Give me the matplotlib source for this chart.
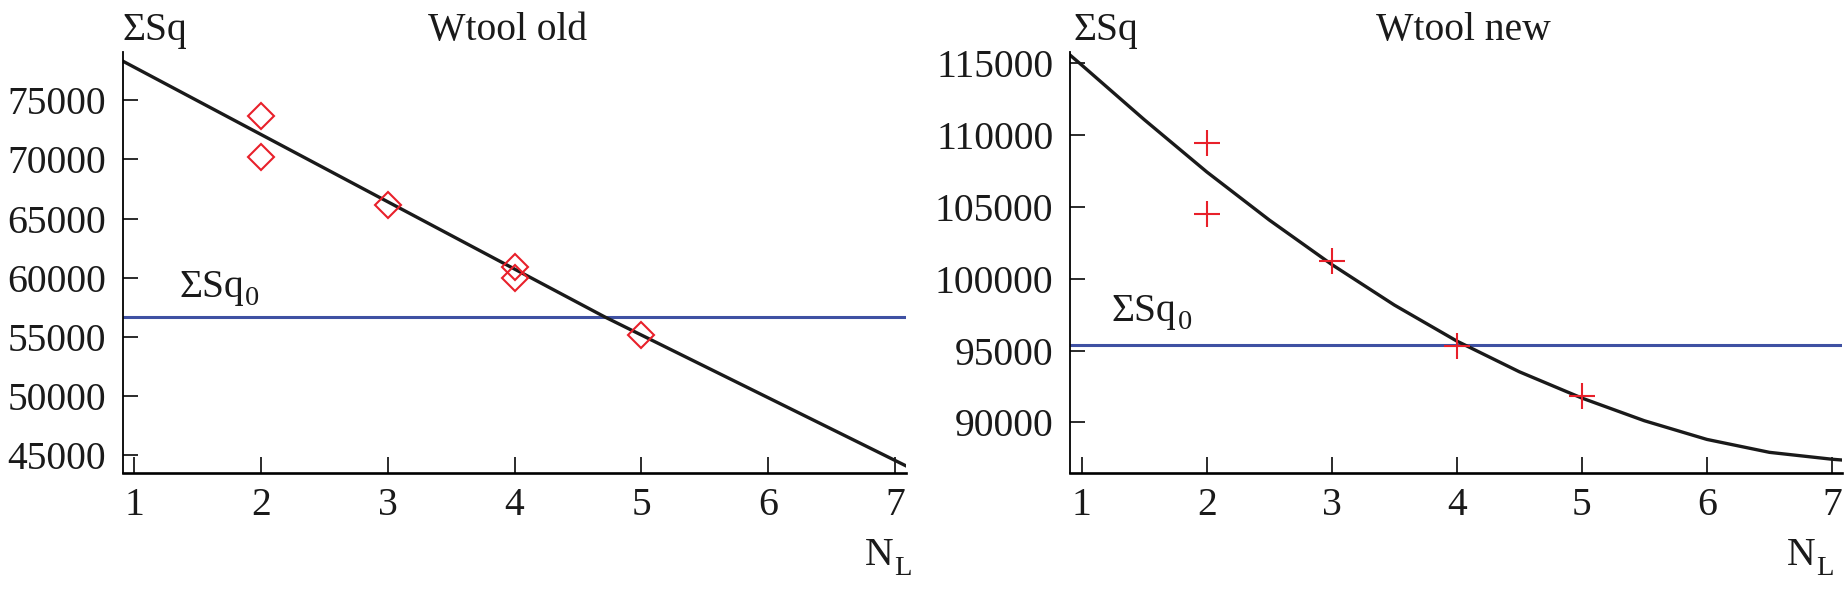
import numpy as np
import matplotlib
matplotlib.use('Agg')
import matplotlib.pyplot as plt

plt.rcParams['font.family'] = ['Liberation Serif', 'DejaVu Serif']

old_x = [2, 2, 3, 4, 4, 5]
old_y = [73640, 70230, 66160, 60900, 59970, 55140]
old_fit_x = [0.911, 3.0, 4.71, 7.087]
old_fit_y = [78300, 66420, 56700, 44110]
old_sq0 = 56695

new_x = [2, 2, 3, 4, 5]
new_y = [109440, 104510, 101255, 95300, 91834]
new_fit_x = [0.906, 1.0, 1.5, 2.0, 2.5, 3.0, 3.5, 4.0, 4.5, 5.0, 5.5, 6.0, 6.5, 7.0, 7.08]
new_fit_y = [115580, 114880, 111080, 107440, 104090, 100990, 98170, 95660,
             93520, 91690, 90110, 88810, 87910, 87430, 87375]
new_sq0 = 95350

x_ticks = [1, 2, 3, 4, 5, 6, 7]
old_yticks = [45000, 50000, 55000, 60000, 65000, 70000, 75000]
new_yticks = [90000, 95000, 100000, 105000, 110000, 115000]

red = '#e8202a'
blue = '#3f51a3'
black = '#1a1a1a'
fs = 28.5
fs_sub = 20.5

fig = plt.figure(figsize=(18.46, 5.91), dpi=100)
ax1 = fig.add_axes([0.0665, 0.2, 0.4243, 0.712])
ax2 = fig.add_axes([0.5796, 0.2, 0.4182, 0.712])


def style(ax, xlim, yticks, ylim):
    for s in ['top', 'right']:
        ax.spines[s].set_visible(False)
    ax.spines['left'].set_linewidth(1.3)
    ax.spines['bottom'].set_linewidth(1.9)
    ax.set_xlim(*xlim)
    ax.set_ylim(*ylim)
    ax.set_xticks(x_ticks)
    ax.set_yticks(yticks)
    ax.tick_params(axis='x', direction='in', length=11.5, width=1.3, pad=10,
                   labelsize=fs, colors=black)
    ax.tick_params(axis='y', direction='in', length=10.5, width=1.3, pad=12,
                   labelsize=fs, colors=black)


def sub_label(ax, x, y, main, sub, dy, coords='data'):
    # основной текст + нижний индекс
    tr = ax.transData if coords == 'data' else ax.transAxes
    t = ax.text(x, y, main, transform=tr, fontsize=fs, va='baseline', color=black,
                clip_on=False)
    ax.annotate(sub, xy=(1, 0), xycoords=t, xytext=(0.5, dy), textcoords='offset points',
                fontsize=fs_sub, va='baseline', color=black, annotation_clip=False)


# левый график
style(ax1, (0.911, 7.087), old_yticks, (43525, 79068))
ax1.axhline(old_sq0, color=blue, lw=2.2)
ax1.plot(old_fit_x, old_fit_y, color=black, lw=2.4)
ax1.plot(old_x, old_y, ls='none', marker='D', ms=13, mfc='none', mec=red, mew=1.5)
sub_label(ax1, 1.357, 58356, 'ΣSq', '0', 1.0)
ax1.text(0.0, 1.028, 'ΣSq', transform=ax1.transAxes, fontsize=fs, va='baseline', color=black)
ax1.text(0.39, 1.028, 'Wtool old', transform=ax1.transAxes, fontsize=fs, va='baseline', color=black)
sub_label(ax1, 0.948, -0.219, 'N', 'L', -1.0, coords='axes')

# правый график
style(ax2, (0.906, 7.08), new_yticks, (86485, 115788))
ax2.axhline(new_sq0, color=blue, lw=2.2)
ax2.plot(new_fit_x, new_fit_y, color=black, lw=2.4)
ax2.plot(new_x, new_y, ls='none', marker='+', ms=18.5, mec=red, mew=1.5)
sub_label(ax2, 1.242, 97022, 'ΣSq', '0', 1.0)
ax2.text(0.004, 1.028, 'ΣSq', transform=ax2.transAxes, fontsize=fs, va='baseline', color=black)
ax2.text(0.397, 1.028, 'Wtool new', transform=ax2.transAxes, fontsize=fs, va='baseline', color=black)
sub_label(ax2, 0.929, -0.219, 'N', 'L', -1.0, coords='axes')

fig.savefig('out.png', dpi=100)
